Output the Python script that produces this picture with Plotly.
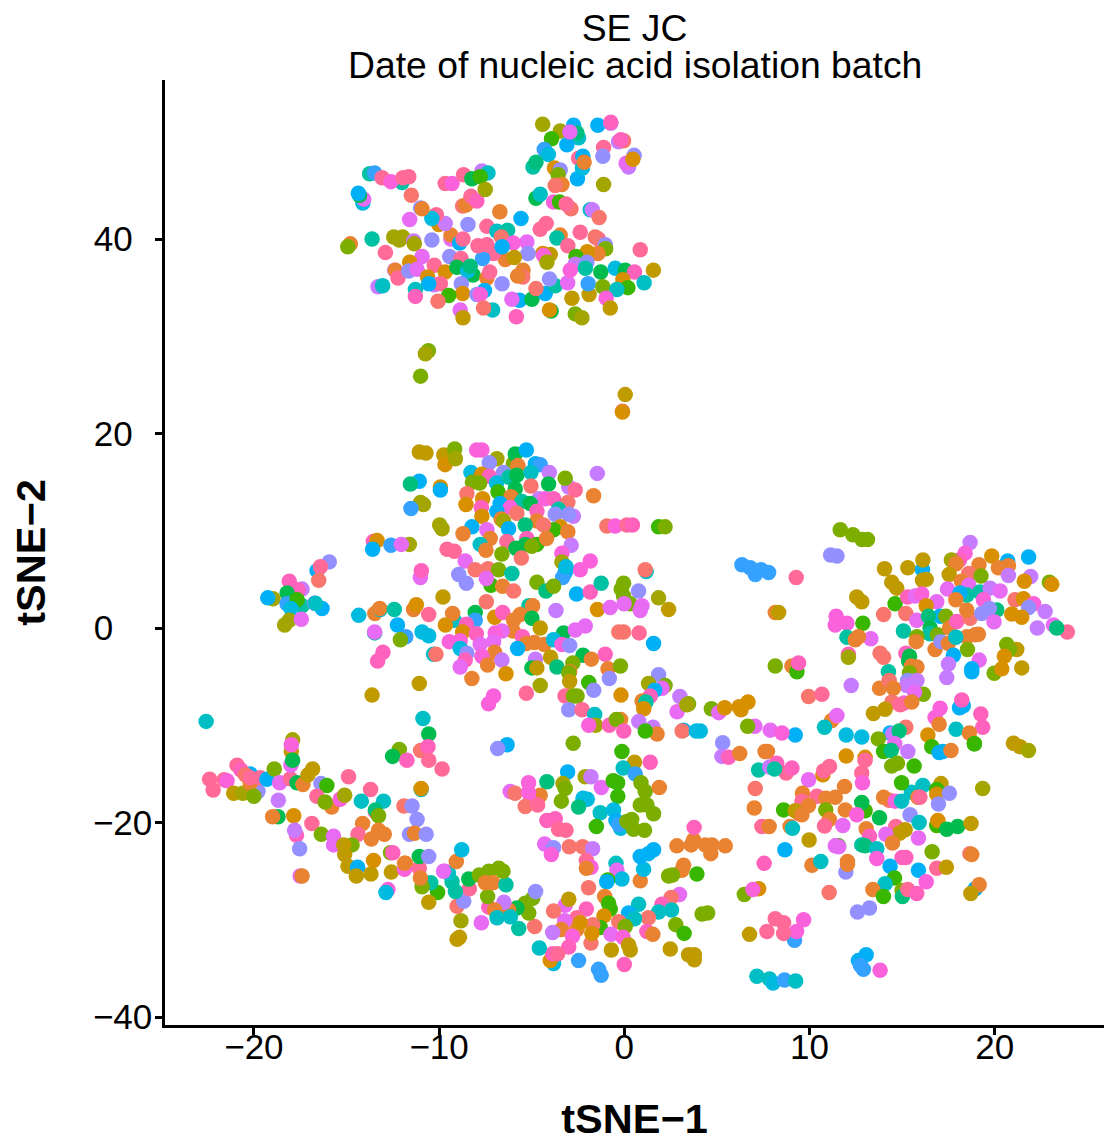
import plotly.graph_objects as go

# batch colours (20 date batches, ggplot hue palette)
batch_colors = ["#F8766D","#EA8331","#D89000","#C09B00","#A3A500","#7CAE00","#39B600","#00BB4E","#00BF7D","#00C1A3",
                "#00BFC4","#00BAE0","#00B0F6","#35A2FF","#9590FF","#C77CFF","#E76BF3","#FA62DB","#FF62BC","#FF6A98"]

# (tSNE-1, tSNE-2, batch index)
top_island = [
(-4.41,51.8,4),(-3.46,51.1,4),(-2.74,51.7,12),(-2.47,50.4,10),(-2.56,50.9,8),(-3.93,50.3,6),(-3.1,49.7,12),(-2.94,51.0,16),
(-1.43,51.7,12),(-0.73,51.9,15),(-0.73,52.0,18),(-4.32,49.2,13),(-4.1,48.7,11),(-4.93,47.4,9),(-4.77,47.9,8),(-1.12,49.4,19),(-1.16,48.5,14),
(-0.31,50.0,15),(-0.04,50.1,0),(-0.19,50.2,18),(-2.47,48.3,19),(-2.24,48.5,12),(-2.53,46.2,12),(-2.26,47.3,11),(-2.17,47.9,1),
(0.53,48.6,14),(0.23,47.4,15),(0.1,47.8,16),(0.46,48.2,2),(-1.12,45.6,4),(-3.77,47.3,2),(-3.46,47.1,14),(-3.57,46.6,5),
(-3.37,45.6,1),(-3.73,45.5,0),(-4.77,44.2,7),(-4.54,44.6,10),(-3.82,43.8,17),(-3.5,43.8,6),(-2.88,43.1,0),(-3.14,43.6,19),
(-1.84,43.0,10),(-1.73,43.0,15),(-1.36,42.2,0),(-6.72,42.8,1),(-5.58,42.1,12),(-4.54,41.0,19),(-4.22,41.6,19),(-8.44,41.5,14),
(-7.42,41.3,19),(-6.88,40.8,10),(-6.3,40.9,9),(-6.64,40.2,0),(-5.26,39.7,16),(-6.0,39.6,17),(-3.46,40.4,1),(-3.64,40.1,9),
(-2.38,40.7,19),(-3.05,39.3,19),(-1.4,40.0,19),(-1.57,40.2,0),(-1.03,39.4,14),(-1.01,39.0,5),(-1.43,38.5,1),(-2.0,38.7,2),
(0.86,38.9,19),(-2.61,38.2,6),(-2.65,37.4,15),(-2.02,37.6,14),(-4.0,38.4,3),(-4.4,38.5,2),(-4.36,38.3,17),(-4.18,37.6,4),
(-5.2,38.5,14),(-6.43,37.9,1),(-5.94,38.1,3),(-5.47,36.8,1),(-5.48,36.1,0),(-5.76,36.2,1),(-7.06,38.5,19),(-7.65,38.0,13),
(-7.9,39.3,19),(-7.42,39.4,19),(-6.6,39.2,12),(-9.36,40.0,16),(-9.36,40.4,1),(-8.89,39.6,12),(-8.71,40.0,19),(-10.39,39.9,14),
(-10.02,41.5,2),(-9.67,41.6,15),(-10.15,42.5,19),(-10.39,42.1,11),(-11.0,43.2,14),(-10.92,43.1,1),(-11.59,42.0,16),(-11.5,44.5,0),
(-8.73,43.4,0),(-8.55,43.5,1),(-8.28,44.4,19),(-7.96,43.9,18),(-9.67,45.7,19),(-9.3,45.7,17),(-8.68,46.6,19),(-7.69,47.0,15),
(-7.36,46.8,10),(-8.23,46.2,7),(-7.78,46.4,6),(-7.51,45.1,4),(-13.75,46.7,9),(-13.48,46.8,13),(-13.08,46.3,19),(-12.0,45.8,9),
(-12.6,45.9,17),(-11.95,46.3,19),(-11.64,46.4,19),(-14.12,43.7,11),(-14.07,44.1,16),(-14.3,44.5,7),(-14.36,44.7,12),(-14.79,39.5,1),
(-14.93,39.2,5),(-13.62,40.0,9),(-12.9,38.6,19),(-12.45,40.2,4),(-11.97,40.2,4),(-12.15,39.9,4),(-11.37,39.8,15),(-11.34,39.5,4),
(-10.92,38.2,16),(-9.43,38.2,14),(-8.82,38.0,19),(-10.26,37.3,19),(-11.59,37.6,2),(-12.4,36.8,15),(-12.36,36.8,1),(-12.22,36.0,19),
(-11.64,36.7,14),(-11.19,36.9,16),(-10.62,36.1,2),(-9.67,36.6,2),(-9.04,37.1,7),(-8.17,36.3,7),(-8.46,36.7,11),(-8.32,37.2,8),
(-7.42,36.0,1),(-7.27,36.6,19),(-10.26,35.3,15),(-9.93,35.4,19),(-10.56,35.4,12),(-8.8,35.4,14),(-8.73,34.4,2),(-9.48,34.2,6),
(-10.06,33.6,0),(-11.28,34.8,10),(-11.28,34.1,18),(-13.3,35.1,15),(-13.05,35.2,10),(-7.55,34.7,12),(-7.96,34.3,14),(-7.78,34.3,17),
(-6.6,35.4,14),(-5.66,33.7,12),(-6.07,33.8,16),(-4.99,33.8,7),(-4.27,34.4,12),(-4.77,34.9,0),(-3.73,35.2,9),(-4.04,35.9,14),
(-3.06,35.5,16),(-2.83,33.9,3),(-1.9,34.3,3),(-1.95,35.4,13),(-2.92,36.8,17),(-2.1,37.0,9),(-1.27,36.6,7),(-1.16,35.1,5),
(-0.49,37.0,11),(0.05,36.8,7),(0.55,36.6,18),(1.57,36.8,3),(1.07,35.5,10),(-0.08,35.8,2),(0.19,35.0,6),(-0.4,34.8,10),
(-0.98,33.9,17),(-0.76,32.9,3),(-2.65,32.3,5),(-2.29,31.9,4),(-3.95,32.6,7),(-4.04,32.7,2),(-7.11,32.7,10),(-7.6,32.9,0),
(-8.86,32.7,16),(-8.71,31.9,3),(-5.83,32.0,18),
]

strays = [
(-10.58,28.5,5),(-10.74,28.2,4),(-11.0,25.9,5),(0.05,24.0,3),(-0.1,22.3,0),(-0.1,22.2,2),
]

middle_cluster = [
(-11.07,18.1,3),(-10.71,18.0,3),(-9.75,17.8,3),(-9.68,16.8,2),(-9.16,18.4,5),(-9.12,17.4,4),(-7.69,18.3,17),(-7.97,18.3,17),
(-6.88,17.4,4),(-7.29,17.0,14),(-5.99,16.9,5),(-5.89,17.9,7),(-5.29,18.3,12),(-5.74,16.7,1),(-4.8,16.9,12),(-4.54,16.8,13),
(-8.28,16.0,11),(-7.7,15.8,2),(-6.52,16.0,14),(-7.29,15.6,18),(-8.2,15.0,5),(-7.81,14.9,5),(-6.9,14.9,11),(-6.24,15.5,9),(-5.8,15.7,7),
(-5.04,16.0,10),(-4.05,16.0,15),(-11.07,15.1,12),(-11.55,14.8,8),(-9.93,14.5,2),(-9.93,14.2,12),(-4.09,14.8,7),(-3.0,14.5,15),(-3.19,15.4,5),
(-2.65,14.2,19),(-1.46,15.9,15),(-5.04,14.6,0),(-5.89,14.3,7),(-6.82,14.0,6),(-8.5,13.8,0),(-7.65,13.3,2),(-1.66,13.6,1),
(-6.12,13.5,1),(-4.6,13.3,15),(-4.27,13.3,17),(-3.82,13.3,18),(-3.05,12.9,0),(-5.53,13.0,9),(-5.08,12.8,7),(-8.55,12.7,2),(-11.0,12.9,4),(-10.84,12.7,4),
(-11.52,12.3,13),(-7.72,12.4,18),(-6.7,12.8,12),(-6.16,12.4,17),(-4.72,12.0,18),(-6.88,12.0,12),(-5.8,11.8,0),(-3.55,12.2,9),(-3.73,11.7,14),
(-2.75,11.5,15),(-3.01,11.7,14),(-7.69,11.5,2),(-6.65,11.2,1),(-6.52,11.0,4),(-9.97,10.6,4),(-9.84,10.2,4),(-8.23,10.4,12),
(-4.72,11.0,1),(-5.35,10.6,8),(-7.42,10.1,16),(-6.25,10.2,12),(-3.45,10.4,2),(-3.82,10.1,6),(-3.05,9.9,1),(-4.36,10.6,0),(-8.71,9.7,1),
(-0.94,10.5,0),(-0.49,10.5,17),(0.14,10.6,19),(0.44,10.6,18),(1.85,10.4,6),(2.2,10.4,5),(-7.24,9.2,1),(-13.55,8.9,18),(-13.35,9.0,2),
(-13.59,8.1,12),(-12.6,8.5,13),(-11.61,8.6,4),(-12.04,8.6,16),(-7.78,8.6,10),(-6.34,8.9,19),(-5.26,9.2,18),(-4.72,8.6,6),(-4.2,9.2,1),
(-2.87,8.5,15),(-5.85,8.2,7),(-5.35,8.6,7),(-5.0,8.4,5),(-9.57,8.1,19),(-9.18,7.9,19),(-7.47,8.0,1),(-6.61,7.6,5),(-5.56,7.2,0),
(-3.37,7.7,17),(-3.37,6.8,4),(-8.59,6.9,16),(-1.84,6.9,17),(-2.38,6.0,17),(-3.19,5.7,12),(-3.33,5.2,13),(-3.15,6.3,11),(-8.05,6.0,0),
(-7.36,6.1,0),(-6.79,6.0,5),(-6.07,5.6,9),(-8.94,5.5,14),(-8.53,4.6,14),(-11.01,5.2,16),(-10.96,5.9,18),(-7.2,4.4,6),(-7.45,5.1,16),
(-6.57,4.3,1),(-5.98,3.8,0),(-4.72,4.7,5),(-4.23,3.8,8),(-3.82,4.3,5),(-2.58,3.5,12),(-1.84,3.7,18),(-1.25,4.6,9),(1.18,5.8,10),
(1.13,6.0,0),(0.32,2.5,5),(-0.04,4.6,5),(-0.17,4.0,5),(-0.04,3.3,5),(0.77,3.8,14),(-0.01,2.5,16),(0.95,2.3,16),(0.86,1.8,16),(1.85,3.1,4),
(2.39,1.9,3),(-9.79,3.2,3),(-7.45,2.7,0),(-5.15,2.3,9),(-4.95,2.3,1),(-3.69,1.8,15),(-1.45,1.9,2),(-0.76,2.1,16),(-11.38,1.9,1),
(-11.23,2.4,2),(-10.56,1.4,19),(-9.18,0.8,10),(-9.27,1.5,1),(-8.05,1.6,7),(-8.05,0.8,13),(-14.34,1.3,11),(-13.47,1.5,1),(-13.18,1.9,10),
(-13.21,2.0,1),(-12.42,1.9,9),(-12.25,0.3,12),(-9.66,0.3,2),(-7.0,1.1,2),(-6.57,1.6,18),(-5.98,0.8,1),(-5.62,1.4,1),(-4.99,1.0,7),
(-8.53,0.4,18),(-8.73,-0.4,2),(-4.54,0,3),(-6.0,-0.3,1),(-7.99,-0.6,18),(-6.6,-0.3,16),(-6.97,-0.5,17),(-13.48,-0.5,9),(-13.48,-0.4,16),
(-11.8,-0.9,13),(-12.09,-1.2,5),(-10.92,-0.4,11),(-10.56,-0.8,11),(-9.45,-1.4,17),(-8.86,-1.3,17),(-7.06,-1.4,16),(-7.78,-1.7,16),
(-3.28,-0.5,7),(-2.65,-0.2,16),(-2.11,0.2,16),(-0.04,-0.4,0),(-0.3,-0.4,0),(0.8,-0.5,19),(1.58,-1.6,12),(-5.5,-0.9,18),(-5.3,-1.6,1),
(-4.85,-1.5,1),(-4.32,-1.7,1),(-3.82,-1.2,11),(-3.37,-1.7,17),(-2.95,-1.8,14),(-5.76,-2.1,12),(-13.03,-2.5,18),(-13.32,-3.4,18),
(-10.3,-2.7,10),(-10.17,-2.7,0),(-8.86,-2.1,11),(-8.5,-2.6,14),(-7.0,-2.5,1),(-7.69,-2.9,17),(-8.59,-3.3,18),(-8.86,-4.0,16),(-7.38,-3.8,1),
(-6.61,-3.3,15),(-6.39,-4.7,2),(-8.23,-5.2,1),(-4.8,-3.2,15),(-4.99,-4.1,7),(-4.72,-4.1,3),(-3.98,-3.0,3),(-3.64,-4.0,8),(-4.54,-5.9,4),
(-11.07,-5.7,3),(-13.62,-6.9,3),(-5.29,-6.7,19),(-7.06,-7.0,17),(-7.33,-7.8,17),(-1.03,-2.7,18),(1.85,-4.8,14),(1.31,-5.7,4),(2.2,-5.9,5),
(-2.23,-2.8,7),(-2.78,-3.6,5),(-1.78,-3.2,1),(-2.95,-4.5,1),(-3.0,-4.6,5),(-0.88,-4.2,1),(-0.21,-3.9,5),(-0.81,-5.2,14),(-1.92,-5.6,6),(-2.95,-5.5,3),
(-1.65,-6.4,14),(-3.2,-7.0,19),(-2.55,-7.0,5),(-2.75,-7.0,5),(-0.18,-6.9,2),(2.04,-6.2,16),(1.64,-6.4,12),(1.4,-7.0,18),(0.96,-7.5,1),
(1.17,-7.6,9),(1.05,-8.3,2),(3.0,-7.05,15),(2.85,-8.6,16),(3.47,-7.8,5),(3.38,-7.9,4),(-3.0,-8.4,14),(-2.28,-8.4,19),(-1.6,-8.9,10),
(-1.55,-10.0,4),(-1.92,-10.0,17),(-0.81,-10.0,18),(-0.2,-9.4,1),(-0.43,-9.4,5),(-0.03,-10.6,18),(0.78,-9.6,15),(1.55,-10.2,15),
(1.77,-10.9,1),(1.13,-10.6,6),(4.7,-8.3,5),(5.1,-8.7,16),(5.42,-8.2,2),(6.2,-8.1,2),(6.3,-8.4,2),(6.68,-7.6,2),(3.2,-10.5,12),(3.12,-10.6,0),
(3.89,-10.6,11),(4.1,-10.6,11),(5.31,-11.8,14),(5.27,-13.2,15),(5.63,-13.3,18),(6.23,-12.9,1),(7.6,-12.7,1),
]

right_cluster = [
(11.66,10.1,5),(12.34,9.6,5),(13.13,9.1,5),(12.83,9.1,5),(11.14,7.5,14),(11.48,7.4,14),(6.35,6.5,13),(6.8,6.2,13),(7.07,5.5,13),(7.38,6.0,13),(7.79,5.7,13),
(9.28,5.2,19),(8.15,1.6,1),(8.33,1.6,3),(14.05,6.1,3),(15.31,6.2,3),(16.1,6.0,12),(16.12,7.0,3),(16.1,4.9,3),(16.3,5.0,3),(14.44,4.7,3),
(14.71,4.1,3),(12.55,3.2,3),(12.82,2.7,3),(14.62,2.5,6),(15.3,3.2,18),(15.7,3.3,16),(16.06,3.5,17),(16.87,2.7,16),(16.3,2.3,2),(14.0,1.4,0),(15.2,1.5,0),
(11.44,1.2,17),(11.39,0.3,17),(12.02,0.5,17),(12.88,0.5,6),(13.31,-1.1,16),(12.02,-0.95,9),(12.47,-1.2,1),(12.64,-0.9,1),(15.07,-0.3,9),(15.79,0.8,16),
(17.05,1.2,12),(16.42,1.2,8),(17.36,1.2,5),(16.51,0,7),(16.5,-0.6,9),(15.8,-0.9,5),(16.91,-0.7,5),(15.76,-1.4,1),(16.78,-2.2,1),(17.1,-1.4,14),(17.56,0,1),(17.95,0.66,18),
(18.67,1.0,0),(18.49,1.85,1),(17.5,-1.6,1),(18.5,-0.9,1),(17.9,-0.95,10),(18.95,-0.7,1),(19.12,-0.65,1),(18.53,-2.2,5),(17.77,-2.8,12),(17.5,-3.7,15),(17.41,-5.1,15),
(19.16,-3.3,16),(18.76,-4.5,12),(18.76,-4.2,12),(20.65,-1.7,5),(21.19,-2.2,3),(20.8,-2.2,5),(20.52,-2.9,2),(19.97,-4.65,5),(20.38,-4.2,2),(21.46,-4.1,3),(18.67,8.8,15),
(18.4,7.7,17),(18.1,7.0,18),(19.84,7.4,2),(20.7,6.9,12),(21.83,7.3,12),(21.94,5.3,15),(21.6,4.8,2),(22.95,4.7,5),(23.08,4.5,2),(20.74,6.4,1),(20.2,6.2,1),
(20.74,5.4,15),(19.15,6.5,1),(17.66,7.0,4),(17.91,6.6,1),(17.54,5.5,3),(18.6,5.6,0),(19.26,5.35,5),(18.2,4.8,1),(18.6,4.4,16),(17.45,4.0,16),(18.5,3.4,9),(18.13,3.6,12),
(17.9,2.9,1),(19.2,3.7,9),(19.75,4.1,15),(20.29,3.8,16),(19.39,2.9,17),(21.1,2.9,0),(21.55,3.0,2),(22.1,2.5,17),(21.83,2.1,14),(20.11,1.85,8),(20.92,1.45,2),(21.46,1.1,2),
(19.3,1.5,14),(19.71,2.0,14),(19.96,0.65,16),(22.72,1.7,15),(22.3,0,15),(23.17,0.3,16),(23.92,-0.4,19),(23.35,0,8),(14.26,-4.5,9),(15.2,-2.6,18),(15.4,-2.9,7),(15.35,-3.4,7),
(13.81,-2.6,0),(14.0,-3.0,0),(12.1,-2.7,18),(12.1,-3.0,4),(15.5,-3.9,1),(15.8,-4.0,1),(15.4,-4.6,5),(15.3,-5.4,14),(15.8,-5.4,15),(15.25,-5.9,15),(12.25,-5.9,15),
(13.78,-6.2,1),(14.3,-5.4,0),(14.53,-6.2,1),(16.15,-6.8,5),(15.67,-6.6,16),(9.95,-7.05,0),(10.67,-6.8,19),(14.45,-7.6,0),(15.1,-7.7,17),(14.9,-7.9,19),(15.52,-7.6,1),
(14.08,-8.35,3),(13.45,-8.8,3),(18.1,-8.2,12),(18.3,-8.0,12),(18.22,-7.4,18),(17.05,-8.25,17),(16.78,-9.2,17),(17.0,-9.9,1),(19.25,-8.85,18),(19.35,-10.2,18),
(17.91,-10.4,10),(18.63,-10.8,1),(18.9,-11.9,6),(16.39,-11.0,2),(21.01,-11.85,3),(21.37,-12.2,3),(21.82,-12.6,4),(15.2,-10.2,0),(14.35,-10.8,12),(14.5,-10.9,15),(14.84,-10.6,8),
(13.71,-11.4,5),(12.82,-11.2,11),(11.98,-11.0,11),(11.2,-9.5,1),(11.48,-9.0,16),(10.81,-10.2,10),(9.23,-11.0,12),(7.88,-10.5,16),(8.51,-10.8,17),(7.05,-10.1,16),(6.66,-10.1,5),
(7.73,-12.7,1),(14.0,-12.7,6),(14.6,-11.9,16),(14.41,-12.6,8),(15.31,-12.7,15),(16.6,-12.2,6),(17.0,-12.8,12),(17.2,-12.7,12),(17.64,-12.6,1),(11.98,-13.15,2),(13.0,-13.3,2),(18.9,-11.9,6),
(8.15,-3.9,5),(9.05,-3.9,1),(9.32,-4.5,6),(9.41,-3.6,18),
]

lower_right = [
(7.25,-14.6,9),(7.85,-14.3,15),(8.23,-13.9,18),(8.74,-14.9,19),(8.11,-14.5,9),(9.05,-14.4,18),(9.95,-15.6,16),(10.72,-15.1,2),(10.76,-14.7,19),(11.08,-14.25,19),
(13.0,-13.6,19),(12.82,-14.9,19),(12.86,-15.9,17),(11.89,-16.3,1),(7.07,-16.5,0),(7.02,-18.5,1),(9.62,-17.0,1),(10.4,-17.3,19),(11.39,-17.4,1),(10.88,-17.5,1),
(14.3,-17.7,0),(14.0,-17.4,1),(14.62,-17.8,17),(14.97,-17.8,10),(15.5,-16.9,10),(16.12,-16.2,10),(17.1,-16.0,3),(16.87,-16.6,6),(16.87,-17.1,2),(17.55,-17.0,14),(16.96,-18.1,14),
(15.85,-17.4,1),(15.96,-17.4,19),(14.97,-15.9,6),(15.65,-14.2,6),(14.44,-14.2,5),(14.75,-13.9,5),(19.35,-16.5,4),(9.59,-17.8,19),(9.95,-18.25,1),(8.6,-18.7,6),(9.45,-19.1,0),(9.23,-18.8,3),
(9.59,-19.2,1),(10.88,-18.7,5),(11.93,-18.7,1),(13.0,-18.8,6),(12.82,-17.95,7),(12.55,-19.2,17),(13.78,-19.5,7),(15.43,-19.2,14),(15.92,-20.0,10),(16.87,-20.3,6),(16.93,-19.8,2),
(17.41,-20.7,7),(18.0,-20.4,7),(18.72,-20.1,3),(14.66,-20.4,19),(14.86,-21.1,3),(15.16,-20.75,3),(14.12,-21.2,16),(13.06,-20.65,1),(13.24,-21.4,18),(11.07,-19.7,1),(10.81,-20.35,19),
(11.8,-20.3,16),(7.43,-20.4,19),(7.82,-20.4,1),(8.95,-20.4,1),(9.08,-20.6,10),(9.98,-21.8,3),(8.67,-22.8,12),(11.57,-22.4,6),(11.39,-22.4,16),(11.57,-22.5,16),(12.82,-22.3,9),(13.0,-22.4,8),
(14.48,-22.1,1),(13.63,-22.7,10),(15.88,-21.6,16),(16.62,-23.0,5),(18.66,-23.2,0),(18.76,-23.3,1),(13.63,-23.7,17),(15.0,-23.6,18),(15.2,-23.6,18),(14.35,-24.5,12),(15.88,-24.9,12),
(16.87,-24.7,19),(17.39,-24.6,3),(7.55,-24.2,18),(10.13,-24.4,1),(10.61,-24.0,10),(11.96,-25.1,14),(12.05,-24.3,1),(12.05,-24.0,1),(16.3,-26.1,17),(14.59,-25.7,6),(14.08,-26.3,10),(13.42,-26.9,1),
(15.0,-27.0,5),(13.99,-27.6,6),(15.02,-27.6,8),(15.31,-26.9,19),(15.79,-27.3,18),(18.95,-26.8,12),(19.16,-26.4,1),(18.71,-27.3,3),(11.06,-27.2,0),(7.25,-26.8,2),(6.48,-27.4,5),(6.94,-26.9,17),
(12.59,-29.2,14),(13.24,-28.8,14),(8.15,-29.9,19),(8.6,-30.3,19),(9.68,-30.0,17),(9.19,-32.1,13),(9.3,-31.2,17),(8.6,-31.4,19),(7.7,-31.2,19),(6.76,-31.5,3),(13.06,-33.6,12),(12.64,-34.2,12),
(12.75,-34.7,13),(12.91,-35.1,13),(13.81,-35.2,17),(7.16,-35.8,10),(7.84,-36.1,10),(8.03,-36.5,11),(8.65,-36.2,13),(9.25,-36.3,10),
]

lower_middle = [
(-10.87,-9.3,10),(-10.56,-10.9,7),(-11.0,-12.6,0),(-10.6,-12.2,18),(-10.56,-13.6,19),(-9.84,-14.5,19),(-10.97,-16.6,10),(-10.97,-16.5,2),(-6.33,-12.0,12),(-6.84,-12.4,14),(-2.76,-11.85,5),
(-3.06,-14.8,12),(-2.11,-15.3,4),(-4.18,-15.8,8),(-6.16,-16.8,16),(-5.9,-17.0,0),(-5.17,-15.9,17),(-4.54,-17.2,1),(-5.17,-16.9,17),(-5.08,-17.8,17),(-5.35,-18.35,0),(-4.68,-18.2,19),
(-3.31,-16.0,4),(-3.19,-16.5,5),(-3.4,-17.8,5),(-2.23,-17.5,11),(-2.0,-17.6,11),(-2.47,-18.4,8),(-1.8,-15.3,15),(-1.24,-16.4,16),(-0.6,-15.7,6),(-0.36,-15.9,6),(-0.35,-17.3,6),(-0.13,-12.7,6),
(0.55,-13.8,3),(-0.06,-14.4,10),(1.4,-13.8,18),(0.59,-15.0,13),(0.9,-15.9,5),(1.13,-16.8,5),(1.89,-16.4,1),(0.86,-18.2,5),(1.22,-18.2,5),(1.58,-19.1,5),(-1.3,-19.0,10),(-0.58,-18.7,11),
(-0.2,-20.6,11),(-0.45,-19.8,12),(-0.3,-20.2,13),(-1.51,-20.4,6),(0.14,-19.9,5),(0.4,-19.7,5),(0.5,-20.7,5),(1.09,-20.8,5),(-4.18,-19.8,18),(-3.73,-19.6,18),(-3.55,-20.7,19),(-3.15,-20.8,19),
(-4.3,-22.2,16),(-3.82,-22.6,14),(-3.94,-23.3,17),(-2.97,-22.5,0),(-2.25,-22.5,0),(-1.71,-22.7,15),(-2.05,-23.9,19),(-1.8,-24.6,17),(-2.05,-24.7,1),(-0.45,-24.2,10),(-0.4,-24.9,16),
(-0.13,-25.8,11),(-0.9,-25.9,6),(-0.95,-26.1,12),(-1.93,-26.7,0),(-1.06,-27.6,1),(0.86,-26.0,1),(1.04,-24.8,11),(0.86,-23.5,12),(1.58,-22.8,12),(1.3,-23.2,12),(2.84,-22.4,1),(3.61,-22.3,1),
(4.37,-22.3,1),(4.73,-22.3,1),(5.45,-22.4,1),(3.74,-21.8,1),(3.77,-20.5,18),(4.67,-23.2,1),(3.2,-24.4,1),(3.11,-24.9,1),(3.92,-25.3,6),(2.39,-25.5,5),(2.6,-25.4,5),(2.98,-27.4,16),(2.53,-27.7,0),
(2.03,-28.4,18),(2.55,-29.0,10),(1.85,-29.2,10),(1.3,-29.8,0),(0.77,-28.4,10),(0.23,-29.3,12),(0.55,-29.9,10),(-0.3,-30.2,0),(-0.76,-28.9,6),(-0.85,-28.3,6),(-1.1,-29.6,2),(0.05,-30.7,5),
(-1.3,-30.8,6),(-1.7,-30.5,0),(-2.05,-28.9,18),(-2.56,-29.8,19),(-3.22,-30.1,16),(-3.19,-28.5,16),(-3.0,-27.9,3),(-3.82,-29.1,0),(-3.4,-31.0,1),(-2.56,-31.0,1),(-2.38,-30.3,2),(-2.8,-31.7,17),
(-3.87,-31.3,15),(-3.0,-32.8,18),(-1.8,-32.4,0),(-1.75,-31.4,2),(-0.72,-31.5,16),(-0.07,-31.8,17),(1.22,-31.2,18),(1.54,-31.5,1),(2.78,-30.5,5),(3.23,-31.4,6),(-0.7,-33.1,3),(0.23,-32.6,3),(0.32,-33.1,3),
(2.48,-33.0,3),(4.2,-29.4,5),(4.5,-29.3,5),(3.47,-33.6,3),(3.78,-33.6,3),(3.78,-34.1,3),(0,-34.6,18),(-2.47,-34.2,13),(-1.39,-35.1,13),(-1.25,-35.7,13),(-3.82,-34.5,11),(-4.0,-34.2,2),
(-3.87,-33.5,18),(-3.6,-33.5,19),(-4.59,-32.9,10),(-4.84,-30.7,0),(-5.7,-30.9,9),(-5.16,-29.3,5),(-5.35,-28.3,5),(-4.95,-27.8,5),(-4.79,-27.1,14),(-5.8,-28.8,7),(-6.25,-29.0,1),
(-6.5,-28.2,15),(-7.32,-28.7,18),(-7.0,-29.0,1),(-6.87,-29.8,10),(-6.15,-29.7,10),(-7.72,-30.3,16),(-7.38,-27.6,5),(-8.82,-30.1,4),(-9.03,-32.0,3),(-8.9,-31.8,3),(-9.03,-28.6,0),(-8.67,-28.1,14),
(-8.37,-26.8,19),(-9.12,-27.1,9),(-9.3,-26.1,9),(-8.4,-25.8,7),(-7.83,-25.4,5),(-7.32,-25.0,5),(-6.78,-24.7,5),(-7.1,-26.2,1),(-7.5,-26.2,1),(-6.39,-26.4,9),(-6.55,-25.0,5),(-10.08,-27.2,6),
(-10.45,-26.2,9),(-10.92,-26.6,5),(-10.56,-28.2,3),(-11.07,-24.7,19),(-11.01,-25.7,1),(-11.07,-23.5,7),(-10.56,-23.5,14),(-9.68,-25.0,17),(-9.5,-25.2,10),(-9.07,-24.0,1),(-8.78,-22.8,11),(-11.82,-24.2,1),
(-11.9,-18.3,0),(-11.46,-18.3,14),(-11.19,-19.7,14),(-11.6,-21.2,14),(-11.33,-21.1,1),(-10.7,-21.2,14),
]

left_cluster = [
(-22.58,-9.6,10),(-22.39,-15.55,19),(-22.2,-16.65,19),(-21.6,-15.6,19),(-21.45,-15.7,17),(-20.91,-14.1,19),(-21.09,-17.0,3),(-20.6,-17.0,4),(-20.2,-15.0,12),(-20.7,-14.6,18),
(-19.78,-16.8,14),(-20.46,-15.1,0),(-20.2,-16.0,1),(-20.2,-15.4,19),(-20.0,-17.3,5),(-19.65,-15.4,19),(-19.3,-15.55,12),(-18.9,-14.5,5),(-18.61,-15.9,16),(-18.03,-15.5,19),(-18.68,-17.7,15),
(-17.91,-11.5,4),(-17.98,-12.7,3),(-17.98,-12.0,17),(-18.0,-14.1,16),(-17.91,-13.6,7),(-17.67,-15.9,7),(-17.35,-16.1,1),(-17.08,-15.1,3),(-16.83,-14.5,3),(-16.38,-16.0,14),(-16.06,-16.2,6),(-14.89,-15.3,19),
(-16.6,-17.3,19),(-15.8,-18.4,1),(-16.15,-17.9,5),(-15.34,-17.6,17),(-15.1,-17.2,4),(-13.7,-16.6,19),(-14.2,-17.8,10),(-13.0,-17.8,10),(-13.44,-18.9,19),(-13.44,-18.7,8),(-13.27,-19.3,5),
(-12.15,-12.5,5),(-12.51,-13.2,7),(-11.74,-13.6,18),(-18.7,-19.4,7),(-18.99,-19.4,1),(-17.85,-19.3,2),(-16.87,-20.1,19),(-17.7,-21.3,18),(-17.8,-20.8,15),(-16.36,-21.2,5),(-15.7,-21.4,16),(-15.7,-22.3,16),
(-14.13,-20.1,1),(-14.38,-21.2,19),(-13.66,-21.7,1),(-13.27,-20.8,1),(-12.96,-21.2,1),(-17.53,-22.7,14),(-14.7,-22.3,5),(-15.15,-22.3,3),(-15.1,-23.3,3),(-14.92,-24.5,3),(-14.4,-24.6,12),(-14.47,-25.5,3),
(-13.68,-25.3,3),(-13.54,-23.9,2),(-12.62,-23.1,5),(-12.5,-23.1,18),(-12.58,-25.1,3),(-11.87,-24.8,17),(-11.87,-24.2,1),(-9.76,-25.0,16),(-17.5,-25.5,16),(-17.4,-25.5,1),(-12.76,-26.9,17),(-12.87,-27.2,11),
(-15.93,6.8,14),(-16.59,5.9,12),(-16.41,6.3,19),(-16.5,4.9,0),(-18.09,4.8,18),(-17.4,4.0,15),(-17.62,3.9,18),(-18.21,3.6,7),(-18.97,3.0,4),(-19.25,3.1,12),(-17.4,2.3,9),(-18.21,2.5,13),
(-17.67,2.9,6),(-18.0,2.0,11),(-16.72,2.55,14),(-16.32,2.0,12),(-16.68,2.55,10),(-18.09,0.8,4),(-18.34,0.3,4),(-17.44,0.9,16),
]

regions = [top_island, strays, middle_cluster, right_cluster, lower_right, lower_middle, left_cluster]
points = [p for region in regions for p in region]

title_line1 = "SE JC"
title_line2 = "Date of nucleic acid isolation batch"
x_ticks = [-20, -10, 0, 10, 20]
y_ticks = [-40, -20, 0, 20, 40]
# The reference left-aligns its y tick labels, so the shorter ones carry figure spaces.
y_tick_labels = ["\u221240", "\u221220", "0\u2007\u2007", "20\u2007", "40\u2007"]

fig = go.Figure(go.Scatter(
    x=[p[0] for p in points],
    y=[p[1] for p in points],
    mode="markers",
    marker=dict(size=15.5, color=[batch_colors[p[2]] for p in points], line=dict(width=0)),
    hoverinfo="skip",
    showlegend=False,
))

FONT = "Liberation Sans"
W, H = 1104, 1142
fig.update_layout(
    width=W, height=H, autosize=False,
    margin=dict(l=164.5, r=0, t=80, b=117),
    paper_bgcolor="white", plot_bgcolor="white",
    font=dict(family=FONT, color="black"),
    showlegend=False,
    title=dict(text=title_line1, x=0.5, xanchor="center", xref="paper",
               y=1 - 27.5/H, yanchor="middle", yref="container",
               font=dict(family=FONT, size=37.3, color="black")),
    annotations=[dict(text=title_line2, x=0.5, y=1 + (80-65)/945, xref="paper", yref="paper",
                      xanchor="center", yanchor="middle", showarrow=False,
                      font=dict(family=FONT, size=37.3, color="black"))],
)
fig.update_xaxes(range=[-24.8, 25.9], tickvals=x_ticks, showgrid=False, zeroline=False,
                 showline=True, linecolor="black", linewidth=2.5, ticks="outside", ticklen=7, tickwidth=2.5,
                 tickcolor="black", tickfont=dict(family=FONT, size=35, color="black"), ticklabelstandoff=-18,
                 title=dict(text="<b>tSNE\u22121</b>", font=dict(family=FONT, size=41.5, color="black"), standoff=41))
fig.update_yaxes(range=[-40.82, 56.35], tickvals=y_ticks, ticktext=y_tick_labels, showgrid=False, zeroline=False,
                 showline=True, linecolor="black", linewidth=2.5, ticks="outside", ticklen=7, tickwidth=2.5,
                 tickcolor="black", tickfont=dict(family=FONT, size=35, color="black"), ticklabelstandoff=-4,
                 title=dict(text="<b>tSNE\u22122</b>", font=dict(family=FONT, size=41.5, color="black"), standoff=35))

fig.write_html("out.html", post_script="document.body.style.margin='0';", config={"displayModeBar": False})
